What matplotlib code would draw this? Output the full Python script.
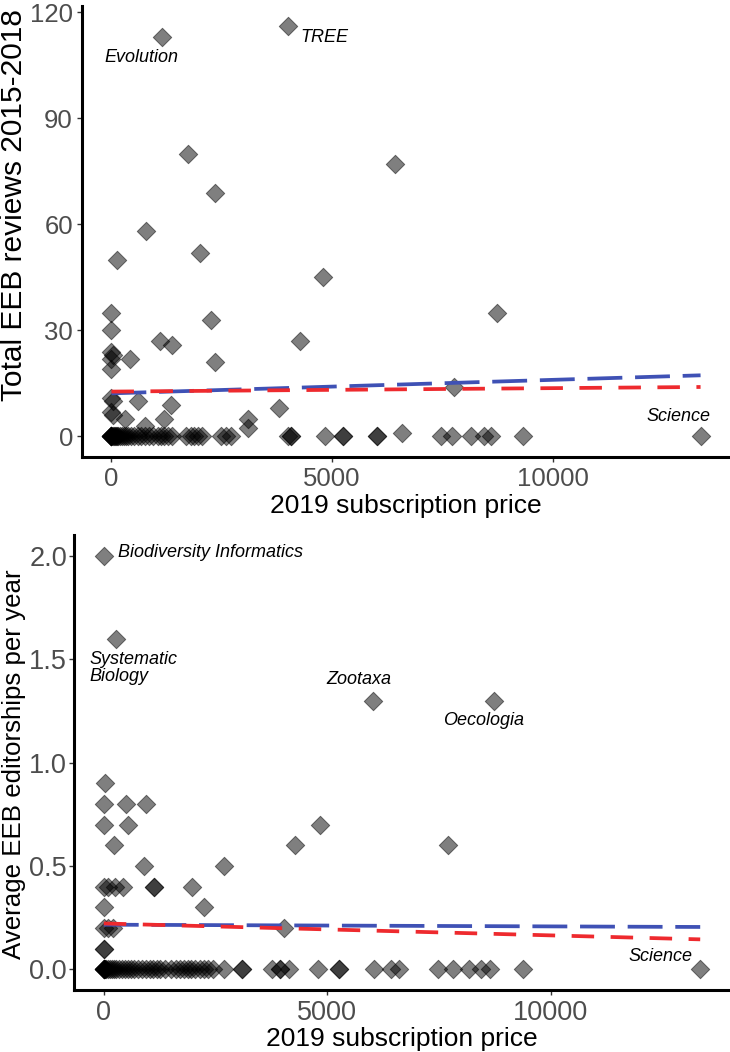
import matplotlib
matplotlib.use("Agg")
import matplotlib.pyplot as plt

plt.rcParams['font.family'] = ['Liberation Sans', 'DejaVu Sans']

# ---- top panel: total EEB reviews vs price ----
rev_price = [1147, 4000, 1735, 2353, 6432, 792, 1998, 128, 4790, 8733,
             0, 0, 2262, 1109, 1373, 4276, 0, 40, 0, 415, 0, 2353,
             0, 30, 603, 1350, 0, 40, 302, 1195, 754, 3093, 3093, 3808,
             7767, 6584]
rev_count = [113, 116, 80, 69, 77, 58, 52, 50, 45, 35,
             35, 30, 33, 27, 26, 27, 24, 23, 22, 22, 19, 21,
             11, 10, 10, 9, 7, 6, 5, 5, 3, 5, 2.5, 8,
             14, 1]
# journals with no reviews
rev_price_zero = [0, 0, 0, 0, 0, 0, 25, 50, 75, 100, 130, 160, 200, 240, 280,
                  320, 380, 450, 520, 600, 680, 760, 850, 950, 1050, 1120, 1200,
                  1280, 1380, 1700, 1800, 1880, 1960, 2050, 2480, 2600, 2700,
                  4000, 4072, 4072, 4830, 5250, 5250, 6020, 6020, 7466, 7707,
                  8145, 8446, 8597, 9337, 13350]

rev_fit_x = [0, 13350]
rev_fit_blue = [12.2, 17.3]
rev_fit_red = [12.7, 14.0]

# ---- bottom panel: average EEB editorships vs price ----
ed_price = [0, 270, 6020, 8733, 37, 0, 487, 937, 0, 547, 232, 899, 2681,
            0, 100, 250, 430, 1124, 1124, 1985, 0, 2247, 0, 100, 200, 4029,
            0, 0, 4838, 4276, 7715]
ed_value = [2.0, 1.6, 1.3, 1.3, 0.9, 0.8, 0.8, 0.8, 0.7, 0.7, 0.6, 0.5, 0.5,
            0.4, 0.4, 0.4, 0.4, 0.4, 0.4, 0.4, 0.3, 0.3, 0.2, 0.2, 0.2, 0.2,
            0.1, 0.1, 0.7, 0.6, 0.6]
# journals with no editorships
ed_price_zero = [0, 0, 0, 0, 0, 30, 60, 100, 140, 180, 230, 280, 330, 400, 470,
                 540, 600, 680, 760, 850, 950, 1030, 1100, 1180, 1260, 1380,
                 1500, 1620, 1700, 1800, 1880, 1960, 2050, 2150, 2250, 2330,
                 2450, 2680, 3094, 3094, 3768, 3955, 3955, 4142, 4793, 5265,
                 5265, 6052, 6427, 6614, 7476, 7813, 8164, 8449, 8636, 9387,
                 13350]

ed_fit_x = [0, 13350]
ed_fit_blue = [0.216, 0.205]
ed_fit_red = [0.222, 0.145]

W, H = 730, 1052
fig = plt.figure(figsize=(7.3, 10.52), dpi=100)
ax1 = fig.add_axes([82 / W, 1 - 457 / H, 648 / W, 451.2 / H])
ax2 = fig.add_axes([74 / W, 1 - 990 / H, 656 / W, 454.7 / H])


def style(ax, tsize, pad):
    for s in ['top', 'right']:
        ax.spines[s].set_visible(False)
    for s in ['left', 'bottom']:
        ax.spines[s].set_linewidth(2.2)
        ax.spines[s].set_color('black')
    ax.tick_params(axis='both', length=3.5, width=1, color='#333333',
                   labelsize=tsize, labelcolor='#4D4D4D')
    ax.tick_params(axis='y', pad=pad)
    ax.tick_params(axis='x', pad=4)
    ax.set_xlim(-667, 14017)
    ax.set_xticks([0, 5000, 10000])
    ax.set_xticklabels(['0', '5000', '10000'])


def draw(ax, x, y, xz, fx, fb, fr):
    xs = x + xz
    ys = y + [0] * len(xz)
    ax.scatter(xs, ys, marker='D', s=88, facecolor=(0, 0, 0, 0.5),
               edgecolor=(0, 0, 0, 0.5), linewidth=0.7, zorder=2)
    ax.plot(fx, fb, color='#3F51B5', lw=2.7, dashes=(9.3, 3.4),
            solid_capstyle='butt', dash_capstyle='butt', zorder=3)
    ax.plot(fx, fr, color='#EE2A2E', lw=2.7, dashes=(6.0, 4.4),
            solid_capstyle='butt', dash_capstyle='butt', zorder=4)


draw(ax1, rev_price, rev_count, rev_price_zero,
     rev_fit_x, rev_fit_blue, rev_fit_red)
style(ax1, 18.5, 3)
ax1.set_ylim(-5.8, 121.8)
ax1.set_yticks([0, 30, 60, 90, 120])
fig.text(14 / W, 1 - 205 / H, 'Total EEB reviews 2015-2018',
         rotation=90, ha='center', va='center', fontsize=21.5)
fig.text(406 / W, 1 - 513 / H, '2019 subscription price',
         ha='center', va='baseline', fontsize=19)

ann = dict(fontsize=13, style='italic', color='black')
ax1.text(679, 107.3, 'Evolution', ha='center', va='center', **ann)
ax1.text(4276, 112.7, 'TREE', ha='left', va='center', **ann)
ax1.text(12850, 5.6, 'Science', ha='center', va='center', **ann)

draw(ax2, ed_price, ed_value, ed_price_zero,
     ed_fit_x, ed_fit_blue, ed_fit_red)
style(ax2, 19.5, 1.5)
ax2.set_ylim(-0.1, 2.1)
ax2.set_yticks([0, 0.5, 1.0, 1.5, 2.0])
ax2.set_yticklabels(['0.0', '0.5', '1.0', '1.5', '2.0'])
fig.text(14 / W, 1 - 764 / H, 'Average EEB editorships per year',
         rotation=90, ha='center', va='center', fontsize=18.6)
fig.text(402 / W, 1 - 1046 / H, '2019 subscription price',
         ha='center', va='baseline', fontsize=19)

ax2.text(315, 2.015, 'Biodiversity Informatics', ha='left', va='center', **ann)
ax2.text(-315, 1.458, 'Systematic\nBiology', ha='left', va='center',
         linespacing=1.0, **ann)
ax2.text(5708, 1.40, 'Zootaxa', ha='center', va='center', **ann)
ax2.text(8494, 1.206, 'Oecologia', ha='center', va='center', **ann)
ax2.text(12470, 0.063, 'Science', ha='center', va='center', **ann)

fig.savefig('out.png', dpi=100)
